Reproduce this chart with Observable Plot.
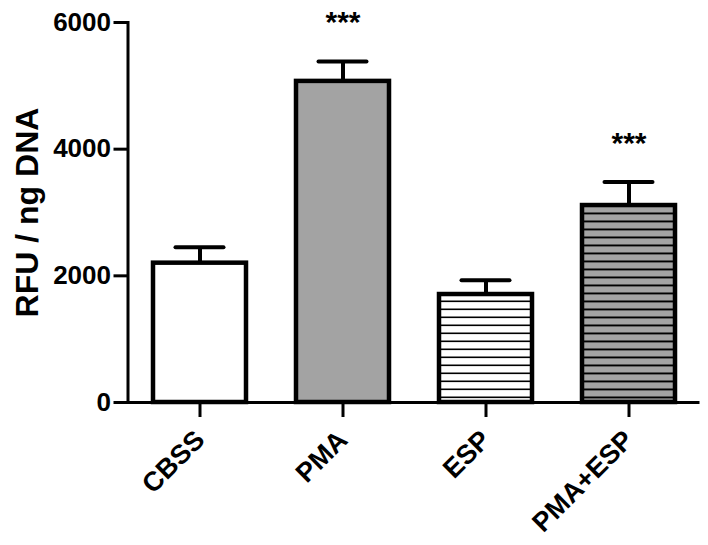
<!DOCTYPE html>
<html>
<head>
<meta charset="utf-8">
<script src="https://cdn.jsdelivr.net/npm/d3@7"></script>
<script src="https://cdn.jsdelivr.net/npm/@observablehq/plot@0.6"></script>
<style>
  html, body { margin: 0; padding: 0; background: white; }
</style>
</head>
<body>
<div id="chart"></div>
<script>
// ---- data ----
const categories = ["CBSS", "PMA", "ESP", "PMA+ESP"];
const means = [2200, 5070, 1705, 3110];
const sems = [250, 315, 225, 370];
const significance = ["", "***", "", "***"];
const yTicks = [0, 2000, 4000, 6000];
const yLabel = "RFU / ng DNA";

// ---- styles (kept separate from the data) ----
const fillFor = {
  "CBSS": "white",
  "PMA": "#a3a3a3",
  "ESP": "url(#hatchWhite)",
  "PMA+ESP": "url(#hatchGray)"
};

const data = categories.map((c, i) => ({
  cat: c, mean: means[i], sem: sems[i], top: means[i] + sems[i], sig: significance[i]
}));

const font = "'Liberation Sans', Arial, Helvetica, sans-serif";

const chart = Plot.plot({
  width: 708,
  height: 545,
  marginLeft: 127.5,
  marginRight: 8.5,
  marginTop: 22,
  marginBottom: 143,
  style: { fontFamily: font, fontWeight: "bold", fontSize: "26px", color: "black", background: "white" },
  x: { domain: categories, paddingInner: 0.35, paddingOuter: 0.175, label: null },
  y: { domain: [0, 6000], ticks: yTicks, label: null },
  color: { type: "identity" },
  marks: [
    Plot.barY(data, { x: "cat", y: "mean", fill: d => fillFor[d.cat], stroke: "black", strokeWidth: 4.5 }),
    Plot.ruleX(data, { x: "cat", y1: "mean", y2: "top", stroke: "black", strokeWidth: 4 }),
    Plot.tickY(data, { x: "cat", y: "top", stroke: "black", strokeWidth: 4, strokeLinecap: "round", insetLeft: 22.5, insetRight: 22.5 }),
    Plot.text(data, { x: "cat", y: "top", text: "sig", lineAnchor: "bottom", dy: -29, fontSize: 30, fontWeight: "bold", fill: "black" }),
    Plot.ruleY([0], { stroke: "black", strokeWidth: 3 }),
    Plot.frame({ anchor: "left", stroke: "black", strokeWidth: 3 }),
    Plot.axisY({ ticks: yTicks, tickSize: 14, tickPadding: 3, strokeWidth: 3, fontSize: 26, fontWeight: "bold", label: null, tickFormat: d => String(d) }),
    Plot.axisX({ tickSize: 15, tickRotate: -45, tickPadding: 18, strokeWidth: 3, fontSize: 27, fontWeight: "bold", label: null }),
    Plot.text([yLabel], { frameAnchor: "left", textAnchor: "middle", rotate: -90, dx: -100, fontSize: 32, fontWeight: "bold", fill: "black" })
  ]
});

// patterns for hatched bars
const svg = d3.select(chart);
const defs = svg.insert("defs", ":first-child");
function hatch(id, bg, lw) {
  const p = defs.append("pattern")
    .attr("id", id)
    .attr("patternUnits", "userSpaceOnUse")
    .attr("width", 8).attr("height", 8);
  p.append("rect").attr("width", 8).attr("height", 8).attr("fill", bg);
  p.append("rect").attr("x", 0).attr("y", 4.5).attr("width", 8).attr("height", lw).attr("fill", "black");
}
hatch("hatchWhite", "white", 1.6);
hatch("hatchGray", "#a3a3a3", 1.9);

document.getElementById("chart").appendChild(chart);
</script>
</body>
</html>
